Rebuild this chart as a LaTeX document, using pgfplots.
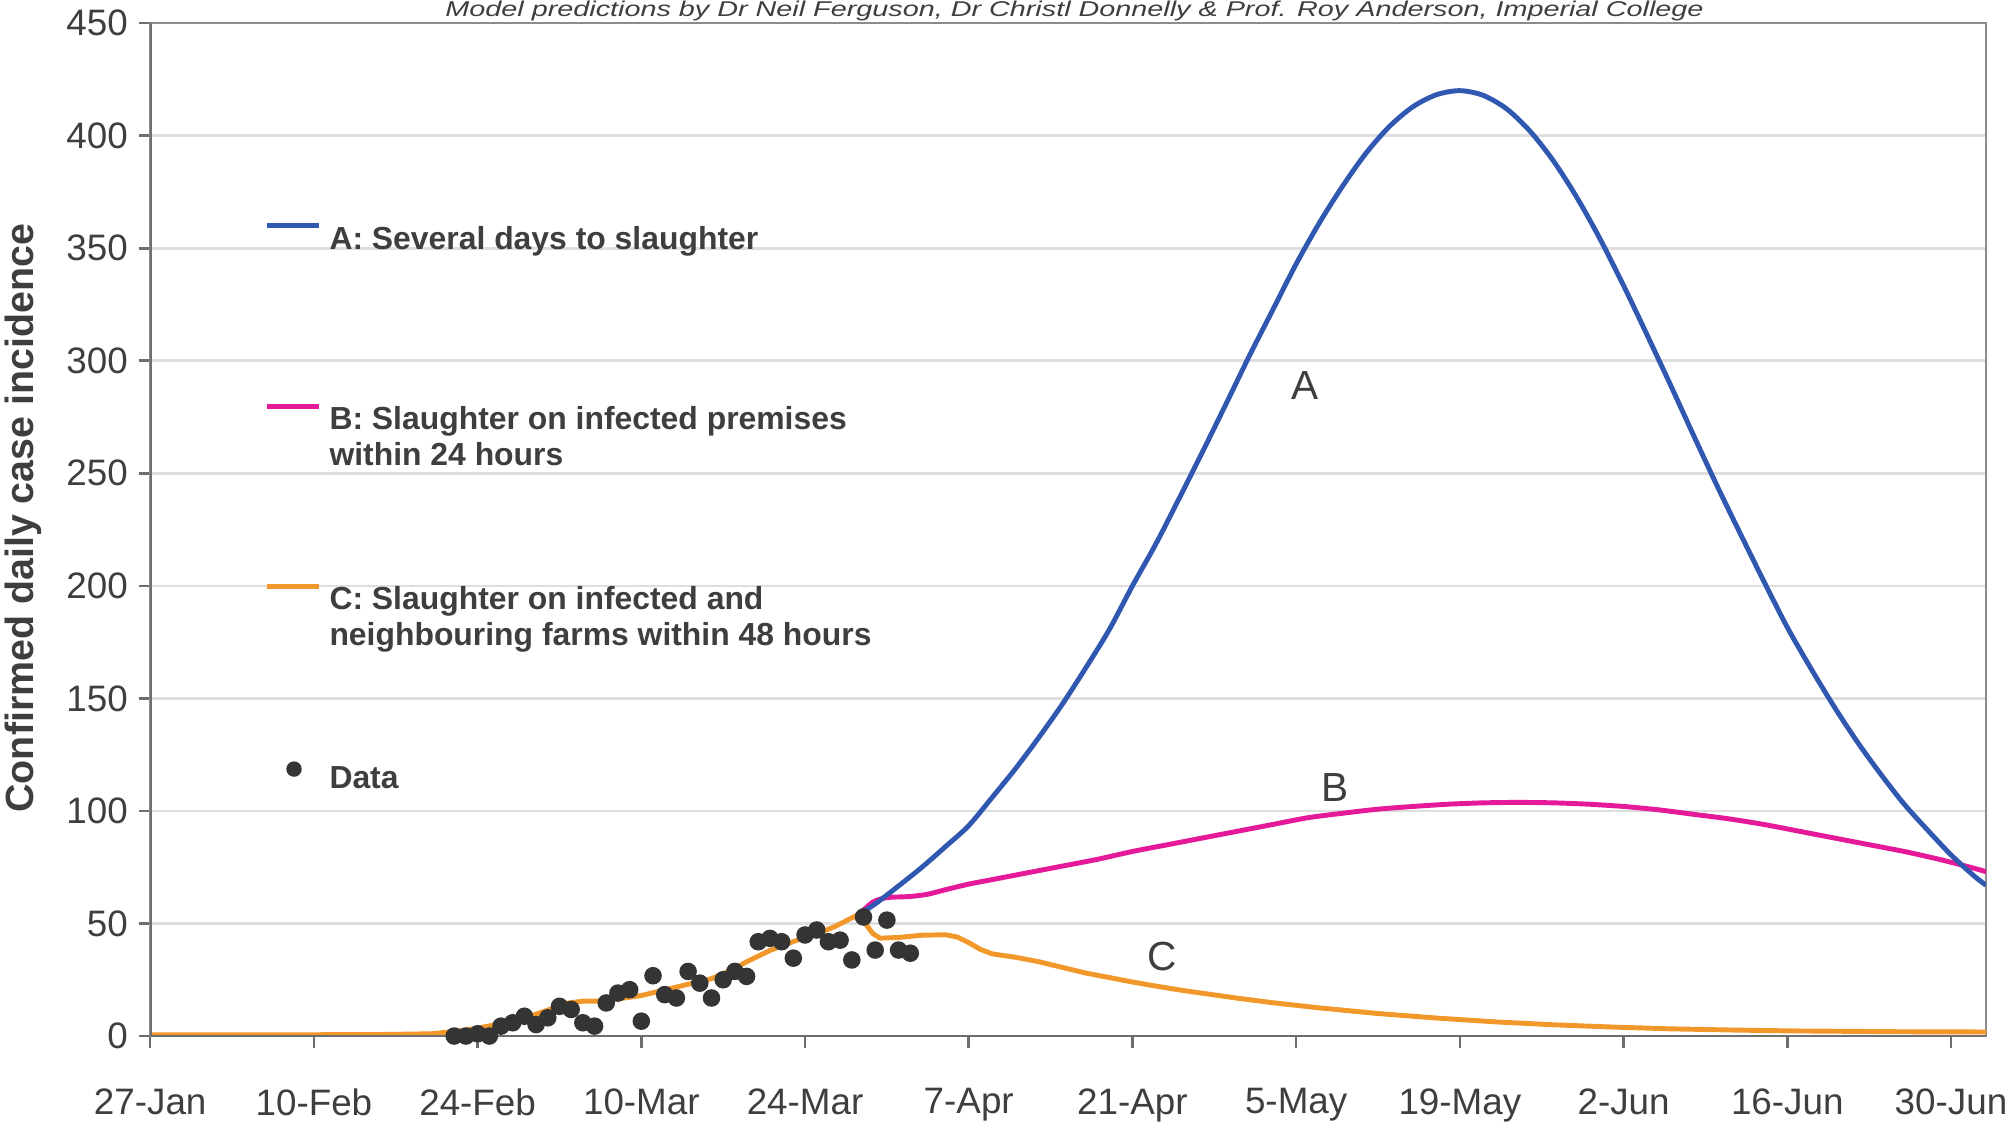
\documentclass[border=0pt]{standalone}
\usepackage{pgfplots}
\pgfplotsset{compat=1.18}
\usepackage{fontspec}
\setmainfont{Liberation Sans}
\definecolor{cA}{RGB}{48,88,176}
\definecolor{cB}{RGB}{228,26,152}
\definecolor{cC}{RGB}{242,152,42}
\definecolor{dotc}{RGB}{52,52,52}
\definecolor{txt}{RGB}{62,62,62}
\definecolor{gridc}{RGB}{222,222,222}
\definecolor{axc}{RGB}{110,110,110}

\begin{document}
\begin{tikzpicture}
\useasboundingbox (-35.1pt,-20.7pt) rectangle (435.3pt,242.1pt);
\clip (-35.1pt,-20.7pt) rectangle (435.3pt,242.1pt);
\begin{axis}[
  at={(0pt,0pt)}, anchor=south west,
  scale only axis, width=429pt, height=236.7pt,
  xmin=0, xmax=157, ymin=0, ymax=450,
  xtick={0,14,28,42,56,70,84,98,112,126,140,154},
  xticklabels={27-Jan,10-Feb,24-Feb,10-Mar,24-Mar,7-Apr,21-Apr,5-May,19-May,2-Jun,16-Jun,30-Jun},
  ytick={0,50,100,150,200,250,300,350,400,450},
  ymajorgrids, grid style={gridc, line width=0.6pt},
  axis line style={black!45, line width=0.6pt},
  tick align=outside, tick pos=left, major tick length=2.7pt,
  tick style={axc, line width=0.6pt},
  ticklabel style={font=\fontsize{8.6}{10}\selectfont, text=txt},
  xticklabel style={yshift=-6pt},
  yticklabel style={xshift=1pt},
  /pgf/number format/assume math mode=true,
  clip=true,
]
% C
\addplot[cC, line width=1.15pt, line join=round] coordinates {
(0,0.5) (10,0.5) (20,0.7) (24,1) (26,2) (28,3.5) (30,5.5) (32,8) (34,11.5) (35.5,14.5) (37,15.5) (38.5,15.5) (40,16.5) (42,18) (44,20.5) (46,23) (48,25.5) (50,30) (51,33) (53,38) (55,42) (57,45.5) (58.5,48.5) (60,52.5) (60.6,54) (61.3,49) (61.8,45.5) (62.4,43.5) (64,43.8) (66,44.8) (68,45) (69,44) (70,41.5) (71,38.5) (72,36.5) (74,35) (76,33) (78,30.5) (80,28) (82,26) (84,24) (86,22.2) (88,20.5) (90,19) (93,16.8) (96,14.8) (100,12.5) (105,10) (110,8) (115,6.3) (120,5) (125,4) (130,3.2) (135,2.7) (140,2.3) (150,1.9) (157,1.8)
};
% B
\addplot[cB, line width=1.15pt, line join=round, smooth, tension=0.4] coordinates {
(60.6,54) (61.8,59.5) (63,61.5) (65,62) (66.5,63) (68,65) (70,67.5) (72,69.5) (75,72.5) (78,75.5) (81,78.5) (84,82) (87,85) (90,88) (93,91) (96,94) (99,97) (102,99) (105,100.8) (108,102) (111,103) (114,103.6) (117,103.8) (120,103.6) (123,103) (126,102) (129,100.5) (132,98.5) (135,96.5) (138,94) (141,91) (144,88) (147,85) (150,82) (153,78.5) (156,74.5) (157,73)
};
% A
\addplot[cA, line width=1.15pt, line join=round, smooth, tension=0.5] coordinates {
(60.6,54) (62,58.7) (64,66.7) (66,75) (68,84.1) (70,93.5) (72,106) (74,118.8) (76,132.7) (78,147.4) (80,163.5) (82,180.4) (84,200) (86,218.6) (88,238.9) (90,259.6) (92,280.8) (94,302.2) (96,322.6) (98,343) (100,361.4) (102,377.8) (104,392.4) (106,404.2) (108,412.9) (110,418.2) (112,420) (114,417.9) (116,411.9) (118,402) (120,388.8) (122,372.6) (124,354) (126,333.4) (128,311.6) (130,289.4) (132,266.7) (134,244.4) (136,223) (138,202) (140,181.6) (142,163.5) (144,146.4) (146,130.6) (148,116.3) (150,103) (152,91.5) (154,80.5) (156,71) (157,67)
};
% Data
\addplot[only marks, mark=*, mark size=1.85pt, dotc, mark options={draw=dotc, fill=dotc}] coordinates {
(26,0) (27,0) (28,1) (29,0) (30,4.4) (31,5.9) (32,8.8) (33,5.1) (34,8.1) (35,13.2) (36,11.8) (37,5.9) (38,4.4) (39,14.7) (40,19.1) (41,20.6) (42,6.6) (43,26.8) (44,18.4) (45,16.9) (46,28.7) (47,23.5) (48,16.9) (49,25) (50,28.7) (51,26.5) (52,41.9) (53,43.4) (54,41.9) (55,34.6) (56,44.9) (57,47.1) (58,41.9) (59,42.6) (60,33.8) (61,52.9) (62,38.2) (63,51.5) (64,38.2) (65,36.8)
};
% legend samples
\addplot[cA, line width=1.15pt, forget plot] coordinates {(10.0,359.9) (14.4,359.9)};
\addplot[cB, line width=1.15pt, forget plot] coordinates {(10.0,279.5) (14.4,279.5)};
\addplot[cC, line width=1.15pt, forget plot] coordinates {(10.0,199.6) (14.4,199.6)};
\addplot[only marks, mark=*, mark size=1.6pt, dotc, forget plot] coordinates {(12.3,118.6)};
% legend texts
\begin{scope}[every node/.style={anchor=base west, inner sep=0pt, text=txt, font=\fontsize{7.45}{8.4}\selectfont\bfseries}]
\node at (axis cs:15.26,349.3) {A: Several days to slaughter};
\node at (axis cs:15.26,269.5) {B: Slaughter on infected premises};
\node at (axis cs:15.26,253.5) {within 24 hours};
\node at (axis cs:15.26,189.6) {C: Slaughter on infected and};
\node at (axis cs:15.26,173.6) {neighbouring farms within 48 hours};
\node at (axis cs:15.26,109.8) {Data};
\end{scope}
% curve labels
\begin{scope}[every node/.style={inner sep=0pt, text=txt, font=\fontsize{9.5}{11}\selectfont}]
\node at (axis cs:98.8,289.2) {A};
\node at (axis cs:101.3,110.6) {B};
\node at (axis cs:86.5,35.4) {C};
\end{scope}
\draw[axc, line width=0.7pt] (rel axis cs:0,1) -- (rel axis cs:0,0) -- (rel axis cs:1,0);
\end{axis}
\node[rotate=90, anchor=base, inner sep=0pt, text=txt, font=\fontsize{9.2}{11}\selectfont\bfseries] at (-27.3pt,121pt) {Confirmed daily case incidence};
\node[anchor=base, inner sep=0pt, text=txt, font=\fontsize{5}{6}\selectfont\itshape] at (216pt,238.2pt) {\resizebox{294pt}{\height}{Model predictions by Dr Neil Ferguson, Dr Christl Donnelly \& Prof. Roy Anderson, Imperial College}};
\end{tikzpicture}
\end{document}
